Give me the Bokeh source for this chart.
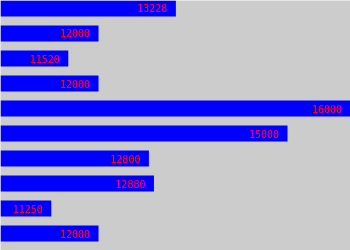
from bokeh.plotting import figure
from bokeh.models import ColumnDataSource, FactorRange, Range1d
from bokeh.transform import dodge
from bokeh.core.properties import value
from bokeh.embed import file_html
from bokeh.resources import INLINE

categories = ["r1", "r2", "r3", "r4", "r5", "r6", "r7", "r8", "r9", "r10"]
values = [13228, 12000, 11520, 12000, 16000, 15000, 12800, 12880, 11250, 12000]
labels = [str(v) for v in values]
x_bounds = [10444, 16000]

src = ColumnDataSource(dict(cat=categories, val=values, label=labels,
                            left=[0] * len(values)))

yr = FactorRange(factors=list(reversed(categories)), range_padding=0)
p = figure(width=350, height=250, y_range=yr,
           x_range=Range1d(x_bounds[0], x_bounds[1]),
           output_backend="svg", toolbar_location=None, min_border=0)
p.axis.visible = False
p.grid.visible = False
p.outline_line_color = None
p.background_fill_color = "#cccccc"
p.border_fill_color = "#cccccc"

ypos = dodge("cat", 0.18, range=yr)
p.hbar(y=ypos, left="left", right="val", height=0.64, source=src,
       fill_color="#0000ff", line_color=None)
p.text(x="val", y=ypos, text="label", source=src, x_offset=-9,
       text_align="right", text_baseline="middle", text_color="#ff0000",
       text_font=value("DejaVu Sans Mono"), text_font_size="10px")

open("out.html", "w").write(file_html(p, INLINE))
